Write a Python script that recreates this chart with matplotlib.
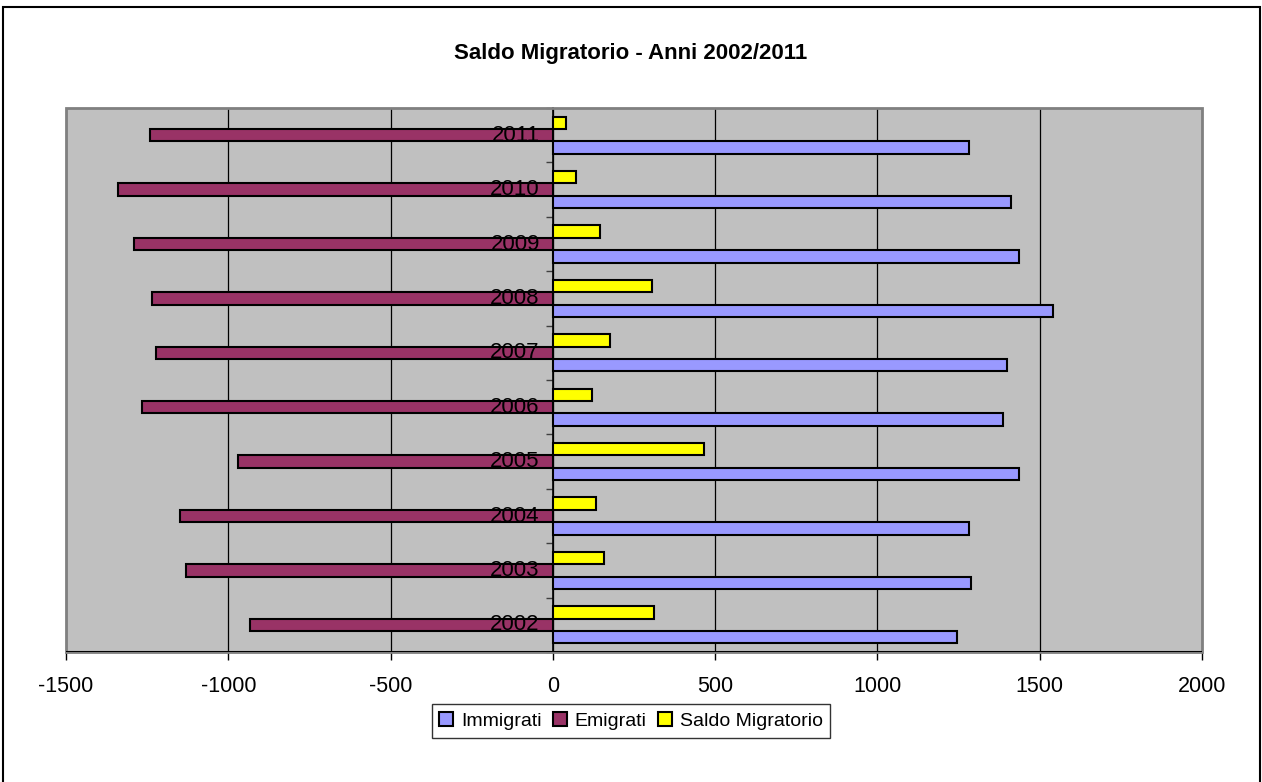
import numpy as np
import matplotlib
matplotlib.use("Agg")
import matplotlib.pyplot as plt
from matplotlib.patches import Rectangle

plt.rcParams['font.family'] = ['Liberation Sans', 'DejaVu Sans']
plt.rcParams['axes.unicode_minus'] = False

# data (2002 at the bottom)
anni = ['2002', '2003', '2004', '2005', '2006', '2007', '2008', '2009', '2010', '2011']
immigrati = [1245, 1288, 1282, 1436, 1386, 1399, 1540, 1436, 1411, 1282]
emigrati = [-934, -1131, -1149, -970, -1266, -1223, -1235, -1291, -1340, -1242]
saldo = [311, 157, 133, 466, 120, 176, 305, 145, 71, 40]

fig = plt.figure(figsize=(12.62, 7.82), dpi=100)
ax = fig.add_axes([66/1262, 1 - 652/782, 1136/1262, 544/782])
ax.set_facecolor('#C0C0C0')

y = np.arange(len(anni))
h = 0.227
ax.barh(y - h, immigrati, height=h, color='#9999FF', edgecolor='black', linewidth=1.5, label='Immigrati', zorder=2)
ax.barh(y, emigrati, height=h, color='#993366', edgecolor='black', linewidth=1.5, label='Emigrati', zorder=2)
ax.barh(y + h, saldo, height=h, color='#FFFF00', edgecolor='black', linewidth=1.5, label='Saldo Migratorio', zorder=2)

ax.set_xlim(-1500, 2000)
ax.set_ylim(-0.5, len(anni) - 0.5)
ax.set_xticks(range(-1500, 2001, 500))
ax.tick_params(axis='x', labelsize=15.5, length=6, width=1, pad=11, color='black')
ax.xaxis.grid(True, color='black', linewidth=0.9)
ax.set_axisbelow(True)

# y axis sits on the zero line, ticks between categories
ax.spines['left'].set_position(('data', 0))
ax.spines['left'].set_color('black')
ax.spines['left'].set_linewidth(1.2)
ax.spines['left'].set_zorder(3)
ax.set_yticks(y)
ax.set_yticklabels([])
ax.tick_params(axis='y', which='major', length=0)
ax.set_yticks(np.arange(-0.5, len(anni), 1), minor=True)
ax.tick_params(axis='y', which='minor', length=5, width=1, color='#404040')
for yy, lab in zip(y, anni):
    ax.text(-40, yy, lab, ha='right', va='center', fontsize=16, zorder=5)

ax.spines['top'].set_visible(False)
ax.spines['right'].set_visible(False)
ax.spines['bottom'].set_color('black')
ax.add_patch(Rectangle((0, 0), 1, 1, transform=ax.transAxes, fill=False,
                       edgecolor='#808080', linewidth=2, zorder=4, clip_on=False))
ax.axhline(-0.5, color='black', linewidth=1.5, zorder=4)

fig.text(0.5, 1 - 53/782, 'Saldo Migratorio - Anni 2002/2011', ha='center', va='center',
         fontsize=16, fontweight='bold')

leg = fig.legend(loc='center', bbox_to_anchor=(631/1262, 1 - 721/782), ncol=3, fontsize=14,
                 frameon=True, fancybox=False, handlelength=0.7, handleheight=0.7,
                 handletextpad=0.4, columnspacing=0.6, borderpad=0.4)
leg.get_frame().set_edgecolor('black')
leg.get_frame().set_linewidth(1)

# outer chart frame (bottom edge falls just outside the image)
fig.add_artist(Rectangle((3/1262, -2/782), 1257/1262, 777/782, transform=fig.transFigure,
                         fill=False, edgecolor='black', linewidth=1.5))

fig.savefig('out.png', dpi=100)
